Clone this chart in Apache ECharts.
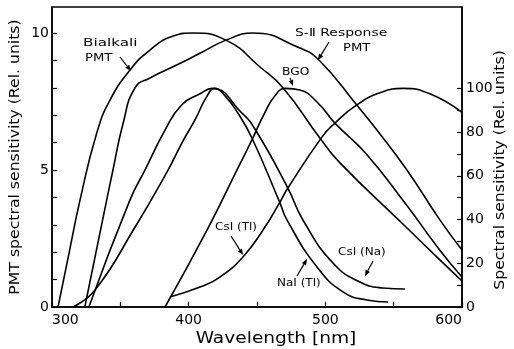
<!DOCTYPE html>
<html>
<head>
<meta charset="utf-8">
<script src="https://cdn.jsdelivr.net/npm/echarts@6.0.0/dist/echarts.min.js"></script>
<style>
  html, body { margin: 0; padding: 0; background: #fff; }
  #chart { width: 514px; height: 349px; }
</style>
</head>
<body>
<div id="chart"></div>
<script>
// axis ticks
const xTicks = [300, 350, 400, 450, 500, 550, 600];
const xLabels = [300, 400, 500, 600];
const pmtTicks = [0, 1, 2, 3, 4, 5, 6, 7, 8, 9, 10];
const pmtLabels = [0, 5, 10];
const scintTicks = [0, 10, 20, 30, 40, 50, 60, 70, 80, 90, 100];
const scintLabels = [0, 20, 40, 60, 80, 100];

// PMT responses (left axis, 0-10)
const bialkaliNm = [304.4, 312, 320.5, 332.7, 342.4, 357.1, 371.7, 388.7, 403.4, 427.3, 452.2, 469, 496, 510.7, 559.4, 583.8, 600];
const bialkaliVal = [0, 1.85, 3.9, 6.34, 7.55, 8.65, 9.38, 9.89, 10, 9.74, 8.76, 8.0, 6.17, 5.26, 2.9, 1.72, 0.95];
const s2Nm = [324, 340, 344.6, 352, 360.7, 371.7, 391.2, 408.3, 427.8, 447, 481.4, 496, 523, 537.7, 559.7, 583.8, 600];
const s2Val = [0, 3.9, 5.0, 6.7, 8.0, 8.36, 8.83, 9.26, 9.75, 10, 9.45, 8.98, 7.37, 6.46, 5.0, 3.18, 2.08];

// scintillator emission (right axis, 0-100)
const bgoNm = [382.7, 413.4, 435.3, 446.3, 455, 463, 471, 481.4, 494.6, 507, 530, 559.4, 583.8, 600];
const bgoVal = [0, 35.2, 62.6, 76.4, 88, 96.5, 100, 99.2, 93.3, 84.1, 70, 46.6, 26, 13.7];
const naiNm = [315.4, 331.5, 359.5, 384.9, 395, 405, 413, 419.2, 426, 436, 446.3, 466.8, 471.9, 493.9, 512.9, 530.4, 545.8];
const naiVal = [0, 7.8, 35.2, 62.6, 75, 86, 96, 100, 97, 88.7, 77.3, 47.6, 39.8, 18.3, 6.9, 3.2, 2.3];
const csiNaNm = [327, 357, 368, 382.7, 395, 408.3, 417, 439, 448.5, 472.6, 483.6, 505.6, 525.3, 542.1, 558.2];
const csiNaVal = [0, 48.9, 62.6, 80.9, 92.5, 97.5, 100, 88.7, 81.4, 54.4, 39.8, 20.1, 11.4, 8.7, 8.2];
const csiTlNm = [386.3, 408.3, 422.9, 439.7, 454.4, 466.8, 472.6, 497.5, 507, 523, 540, 557, 576.5, 600];
const csiTlVal = [4.6, 9.1, 13.7, 22.9, 35.2, 48, 54.4, 77.7, 84.1, 92.4, 98, 100, 97.5, 89];

const chart = echarts.init(document.getElementById('chart'));
const font = '"DejaVu Sans", sans-serif';

function curve(name, nm, val, yAxisIndex) {
  return {
    name: name,
    type: 'line',
    yAxisIndex: yAxisIndex,
    smooth: 0.5,
    symbol: 'none',
    lineStyle: { color: '#000', width: 1.6 },
    data: nm.map((x, i) => [x, val[i]]),
  };
}

function label(text, x, y, size, sx) {
  return {
    type: 'text', x: x, y: y, scaleX: sx || 1.2,
    style: { text: text, fill: '#000', font: (size || 11) + 'px ' + font, verticalAlign: 'middle' },
  };
}

function title(text, x, y, size, sx, rot) {
  return {
    type: 'text', x: x, y: y, rotation: rot || 0, scaleX: sx,
    style: { text: text, fill: '#000', font: size + 'px ' + font, align: 'center', verticalAlign: 'middle' },
  };
}

function arrow(x1, y1, x2, y2) {
  const dx = x2 - x1, dy = y2 - y1;
  const len = Math.sqrt(dx * dx + dy * dy);
  const ux = dx / len, uy = dy / len;
  const bx = x2 - ux * 6, by = y2 - uy * 6;
  return {
    type: 'group',
    children: [
      { type: 'line', shape: { x1: x1, y1: y1, x2: bx, y2: by }, style: { stroke: '#000', lineWidth: 1.2 } },
      {
        type: 'polygon',
        shape: { points: [[x2, y2], [bx - uy * 2.5, by + ux * 2.5], [bx + uy * 2.5, by - ux * 2.5]] },
        style: { fill: '#000' },
      },
    ],
  };
}

const axisText = { color: '#000', fontSize: 14, fontFamily: font };

chart.setOption({
  animation: false,
  grid: { left: 52, right: 52, top: 7, bottom: 42, show: true, borderColor: '#000', borderWidth: 1.5 },
  xAxis: {
    type: 'value', min: 300, max: 600,
    axisLine: { lineStyle: { color: '#000', width: 1.5 } },
    axisTick: { inside: true, length: 5, customValues: xTicks, lineStyle: { color: '#000', width: 1.2 } },
    axisLabel: Object.assign({ customValues: xLabels, margin: 6, alignMinLabel: 'left', alignMaxLabel: 'right' }, axisText),
    splitLine: { show: false },
  },
  yAxis: [
    {
      type: 'value', min: 0, max: 10.95, position: 'left',
      axisLine: { show: true, lineStyle: { color: '#000', width: 1.5 } },
      axisTick: { inside: true, length: 5, customValues: pmtTicks, lineStyle: { color: '#000', width: 1.2 } },
      axisLabel: Object.assign({ customValues: pmtLabels, margin: 3 }, axisText),
      splitLine: { show: false },
    },
    {
      type: 'value', min: 0, max: 137.2, position: 'right',
      axisLine: { show: true, lineStyle: { color: '#000', width: 1.5 } },
      axisTick: { inside: true, length: 5, customValues: scintTicks, lineStyle: { color: '#000', width: 1.2 } },
      axisLabel: Object.assign({ customValues: scintLabels, margin: 4 }, axisText),
      splitLine: { show: false },
    },
  ],
  graphic: [
    title('PMT spectral sensitivity (Rel. units)', 15, 157, 14, 1.12, Math.PI / 2),
    title('Spectral sensitivity (Rel. units)', 500, 170, 14, 1.12, Math.PI / 2),
    title('Wavelength [nm]', 276, 339, 15, 1.24),
    label('Bialkali', 83, 43, 11, 1.38),
    label('PMT', 85, 58, 11, 1.2),
    arrow(120, 57, 131, 71),
    label('S-Ⅱ Response', 295, 33, 11, 1.27),
    label('PMT', 343, 48, 11, 1.2),
    arrow(329, 42, 318, 60),
    label('BGO', 282, 72, 11, 1.12),
    arrow(290, 78, 293, 86),
    label('CsI (Tl)', 215, 227, 10),
    arrow(231, 236, 243, 255),
    label('NaI (Tl)', 277, 283, 10),
    arrow(297, 276, 307, 259),
    label('CsI (Na)', 338, 252, 10),
    arrow(373, 261, 365, 276),
  ],
  series: [
    curve('Bialkali PMT', bialkaliNm, bialkaliVal, 0),
    curve('S-II PMT', s2Nm, s2Val, 0),
    curve('BGO', bgoNm, bgoVal, 1),
    curve('NaI (Tl)', naiNm, naiVal, 1),
    curve('CsI (Na)', csiNaNm, csiNaVal, 1),
    curve('CsI (Tl)', csiTlNm, csiTlVal, 1),
  ],
});
</script>
</body>
</html>
